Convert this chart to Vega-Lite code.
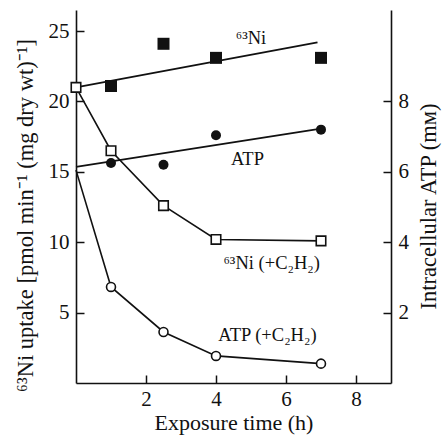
{
  "$schema": "https://vega.github.io/schema/vega-lite/v6.json",
  "autosize": {"type": "none"},
  "width": 315,
  "height": 373,
  "padding": {"left": 76, "top": 10, "right": 53, "bottom": 54},
  "background": "white",
  "config": {
    "view": {"stroke": null},
    "font": "Liberation Serif",
    "axis": {
      "grid": false,
      "domainColor": "#111",
      "domainWidth": 1.6,
      "tickColor": "#111",
      "tickWidth": 1.5,
      "tickSize": -8,
      "labelFont": "Liberation Serif",
      "labelFontSize": 21,
      "labelColor": "#111",
      "titleFont": "Liberation Serif",
      "titleFontSize": 22.5,
      "titleFontWeight": "normal",
      "titleColor": "#111",
      "labelPadding": 15
    }
  },
  "datasets": {
    "ni": [
      {"series": "Ni", "time": 1, "value": 21.1},
      {"series": "Ni", "time": 2.5, "value": 24.1},
      {"series": "Ni", "time": 4, "value": 23.1},
      {"series": "Ni", "time": 7, "value": 23.1},
      {"series": "Ni_C2H2", "time": 0, "value": 21.0},
      {"series": "Ni_C2H2", "time": 1, "value": 16.5},
      {"series": "Ni_C2H2", "time": 2.5, "value": 12.6},
      {"series": "Ni_C2H2", "time": 4, "value": 10.2},
      {"series": "Ni_C2H2", "time": 7, "value": 10.1}
    ],
    "ni_fit": [
      {"time": 0, "value": 21.0},
      {"time": 6.9, "value": 24.2}
    ],
    "atp": [
      {"series": "ATP", "time": 1, "value": 6.25},
      {"series": "ATP", "time": 2.5, "value": 6.2},
      {"series": "ATP", "time": 4, "value": 7.04},
      {"series": "ATP", "time": 7, "value": 7.2},
      {"series": "ATP_C2H2", "time": 0, "value": 6.05},
      {"series": "ATP_C2H2", "time": 1, "value": 2.73},
      {"series": "ATP_C2H2", "time": 2.5, "value": 1.45},
      {"series": "ATP_C2H2", "time": 4, "value": 0.77},
      {"series": "ATP_C2H2", "time": 7, "value": 0.55}
    ],
    "atp_fit": [
      {"time": 0, "value": 6.14},
      {"time": 7, "value": 7.23}
    ],
    "labels": [
      {"label": "⁶³Ni", "time": 5.0, "value": 24.5},
      {"label": "ATP", "time": 4.9, "value": 15.9},
      {"label": "⁶³Ni (+C₂H₂)", "time": 5.59, "value": 8.5},
      {"label": "ATP (+C₂H₂)", "time": 5.47, "value": 3.4}
    ]
  },
  "layer": [
    {
      "encoding": {
        "x": {"field": "time", "type": "quantitative", "scale": {"domain": [0, 9], "nice": false}, "axis": {"values": [2, 4, 6, 8], "title": "Exposure time (h)", "titleFontSize": 22, "titlePadding": 3, "labelPadding": 13}},
        "y": {"field": "value", "type": "quantitative", "scale": {"domain": [0, 26.5], "nice": false}, "axis": {"values": [5, 10, 15, 20, 25], "orient": "left", "title": "⁶³Ni uptake [pmol min⁻¹ (mg dry wt)⁻¹]", "titlePadding": 11, "titleY": 205}}
      },
      "layer": [
        {"data": {"name": "ni_fit"}, "mark": {"type": "line", "color": "#111", "strokeWidth": 1.8}},
        {"data": {"name": "ni"}, "transform": [{"filter": "datum.series == 'Ni_C2H2'"}], "mark": {"type": "line", "color": "#111", "strokeWidth": 1.6}},
        {"data": {"name": "ni"}, "transform": [{"filter": "datum.series == 'Ni'"}], "mark": {"type": "point", "shape": "square", "filled": true, "color": "#111", "size": 144, "opacity": 1}},
        {"data": {"name": "ni"}, "transform": [{"filter": "datum.series == 'Ni_C2H2'"}], "mark": {"type": "point", "shape": "square", "filled": true, "fill": "white", "stroke": "#111", "strokeWidth": 1.6, "size": 90, "opacity": 1}},
        {"data": {"name": "labels"}, "mark": {"type": "text", "font": "Liberation Serif", "fontSize": 18.5, "color": "#111"}, "encoding": {"text": {"field": "label"}}}
      ]
    },
    {
      "encoding": {
        "x": {"field": "time", "type": "quantitative", "scale": {"domain": [0, 9], "nice": false}},
        "y": {"field": "value", "type": "quantitative", "scale": {"domain": [0, 10.6], "nice": false}, "axis": {"values": [2, 4, 6, 8], "orient": "right", "title": "Intracellular ATP (mᴍ)", "titleAngle": 270, "titleBaseline": "top", "titlePadding": 9, "titleY": 196}}
      },
      "layer": [
        {"data": {"name": "atp_fit"}, "mark": {"type": "line", "color": "#111", "strokeWidth": 1.8}},
        {"data": {"name": "atp"}, "transform": [{"filter": "datum.series == 'ATP_C2H2'"}], "mark": {"type": "line", "color": "#111", "strokeWidth": 1.6}},
        {"data": {"name": "atp"}, "transform": [{"filter": "datum.series == 'ATP'"}], "mark": {"type": "point", "shape": "circle", "filled": true, "color": "#111", "size": 100, "opacity": 1}},
        {"data": {"name": "atp"}, "transform": [{"filter": "datum.series == 'ATP_C2H2' && datum.time > 0"}], "mark": {"type": "point", "shape": "circle", "filled": true, "fill": "white", "stroke": "#111", "strokeWidth": 1.6, "size": 80, "opacity": 1}}
      ]
    }
  ],
  "resolve": {"scale": {"y": "independent"}, "axis": {"y": "independent"}}
}
